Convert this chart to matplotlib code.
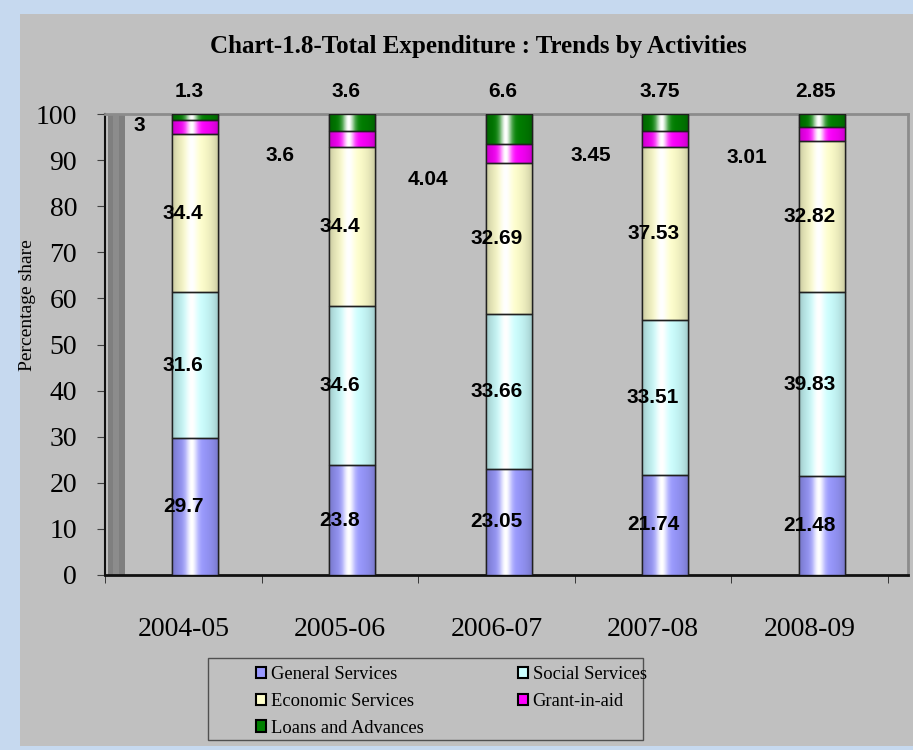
import numpy as np
import matplotlib
matplotlib.use('Agg')
import matplotlib.pyplot as plt
from matplotlib.patches import Rectangle, Patch
from matplotlib.colors import to_rgb

years = ['2004-05', '2005-06', '2006-07', '2007-08', '2008-09']
series = ['General Services', 'Social Services', 'Economic Services',
          'Grant-in-aid', 'Loans and Advances']
general = [29.7, 23.8, 23.05, 21.74, 21.48]
social = [31.6, 34.6, 33.66, 33.51, 39.83]
economic = [34.4, 34.4, 32.69, 37.53, 32.82]
grant = [3, 3.6, 4.04, 3.45, 3.01]
loans = [1.3, 3.6, 6.6, 3.75, 2.85]
grant_labels = ['3', '3.6', '4.04', '3.45', '3.01']

colors = ['#9999ff', '#ccffff', '#ffffcc', '#ff00ff', '#008000']

W, H = 913, 750
fig = plt.figure(figsize=(W / 100, H / 100), dpi=100)
fig.patch.set_facecolor('#c6d9ef')
panel = Rectangle((20 / W, 1 - 746 / H), 1, (746 - 14) / H,
                  transform=fig.transFigure, facecolor='#c0c0c0',
                  edgecolor='none', zorder=-5)
fig.patches.append(panel)

ax = fig.add_axes([105 / W, 1 - 575 / H, 803 / W, 461 / H])
ax.set_zorder(2)
ax.patch.set_alpha(0)

x = np.arange(len(years))
bx = x + 0.077
bw = 0.294


def cyl(color):
    r, g, b = to_rgb(color)
    t = np.linspace(0, 1, 60)
    hi = np.exp(-((t - 0.42) / 0.13) ** 2)
    dark = 0.72 + 0.28 * np.sin(np.pi * t) ** 0.5
    base = np.array([r, g, b])[None, :] * dark[:, None]
    img = base * (1 - hi[:, None]) + hi[:, None]
    return np.clip(img[None, :, :], 0, 1)


bottom = np.zeros(len(years))
for vals, c in zip([general, social, economic, grant, loans], colors):
    bars = ax.bar(bx, vals, bw, bottom=bottom, color=c, edgecolor='#202020',
                  linewidth=1.0, zorder=3)
    for p in bars:
        x0, y0 = p.get_x(), p.get_y()
        ax.imshow(cyl(c), extent=[x0, x0 + p.get_width(), y0, y0 + p.get_height()],
                  aspect='auto', zorder=3.5, interpolation='bilinear')
        ax.add_patch(Rectangle((x0, y0), p.get_width(), p.get_height(),
                               facecolor='none', edgecolor='#202020', lw=1.0, zorder=4))
    bottom = bottom + np.array(vals)

lab = dict(fontfamily='Liberation Sans', fontweight='bold', fontsize=15,
           ha='center', va='center', zorder=6)
base0 = np.zeros(len(years))
for vals in [general, social, economic]:
    for i, v in enumerate(vals):
        ax.text(x[i], base0[i] + v / 2, f'{v:g}', **lab)
    base0 = base0 + np.array(vals)

grant_dx = [-0.28, -0.38, -0.44, -0.40, -0.40]
grant_y = [97.6, 91.1, 85.7, 91.1, 90.5]
for i, s in enumerate(grant_labels):
    ax.text(x[i] + grant_dx[i], grant_y[i], s, **lab)
for i, v in enumerate(loans):
    ax.text(x[i] + 0.04, 104.8, f'{v:g}', clip_on=False, **lab)

# dark side wall
ax.add_patch(Rectangle((-0.48, 0), 0.11, 100, facecolor='#7f7f7f',
                       edgecolor='none', zorder=1))
ax.add_patch(Rectangle((-0.45, 0), 0.04, 100, facecolor='#8c8c8c',
                       edgecolor='none', zorder=1))

ax.set_xlim(-0.5, -0.5 + 803 / 156.6)
ax.set_ylim(0, 100)
ax.set_yticks(np.arange(0, 101, 10))
ax.set_xticks(x)
ax.set_xticklabels(years)
ax.set_xticks(np.arange(-0.5, 5, 1), minor=True)
ax.tick_params(axis='x', which='major', length=0, pad=30, labelsize=20)
ax.tick_params(axis='x', which='minor', length=6, direction='out', color='#202020')
ax.tick_params(axis='y', length=6, pad=14, labelsize=20, color='#404040')
for t in ax.get_xticklabels() + ax.get_yticklabels():
    t.set_fontfamily('Liberation Serif')

ax.spines['left'].set_color('#101010')
ax.spines['left'].set_linewidth(1.5)
ax.spines['bottom'].set_color('#101010')
ax.spines['bottom'].set_linewidth(2)
ax.spines['top'].set_color('#8c8c8c')
ax.spines['top'].set_linewidth(2)
ax.spines['right'].set_color('#8c8c8c')
ax.spines['right'].set_linewidth(2)

fig.text(27 / W, 1 - 305 / H, 'Percentage share', rotation=90, ha='center',
         va='center', fontfamily='Liberation Serif', fontsize=14)
fig.text(478 / W, 1 - 46 / H, 'Chart-1.8-Total Expenditure : Trends by Activities',
         ha='center', va='center', fontfamily='Liberation Serif',
         fontweight='bold', fontsize=18)

# legend
fig.patches.append(Rectangle((208 / W, 1 - 740 / H), 435 / W, 82 / H,
                             transform=fig.transFigure, facecolor='none',
                             edgecolor='#505050', lw=1, zorder=5))
handles = [Patch(facecolor=c, edgecolor='black', lw=1.5) for c in colors]
order = [0, 2, 4, 1, 3]
fig.legend([handles[k] for k in order], [series[k] for k in order],
           loc='upper left', ncol=2, frameon=False,
           bbox_to_anchor=(256 / W, 1 - 666 / H), borderaxespad=0, borderpad=0,
           prop={'family': 'Liberation Serif', 'size': 13.3},
           handlelength=0.55, handleheight=0.55, handletextpad=0.25,
           labelspacing=0.53, columnspacing=5.1)

fig.savefig('out.png', dpi=100, facecolor=fig.get_facecolor())
